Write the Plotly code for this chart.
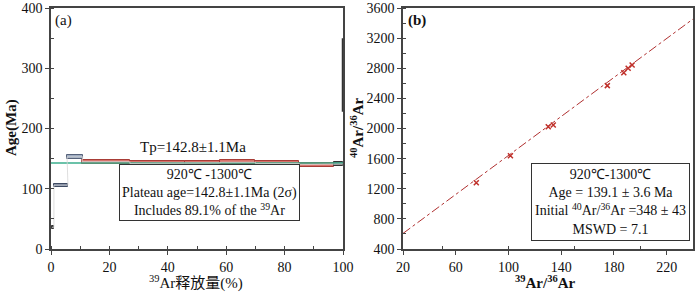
import plotly.graph_objects as go

# ---- Panel (a): age spectrum ----
step_start = [0.3, 1.0, 5.5, 10.6, 27.0, 46.0, 58.0, 70.0, 85.0, 97.0]
step_end = [1.0, 5.8, 10.9, 27.0, 46.0, 58.0, 70.0, 85.0, 97.0, 100.0]
step_age = [36, 106, 153, 145, 142, 143, 144, 142, 140, 141]
step_err = [2.5, 2.5, 3.5, 3.5, 3.5, 3.5, 3.5, 3.5, 3.5, 3.0]
step_in_plateau = [False, False, False, True, True, True, True, True, True, True]
plateau_age = 142.8
last_step_bar = [228, 350]

# ---- Panel (b): isochron ----
iso_x = [75.6, 101.5, 130.2, 134.0, 175.0, 187.5, 190.8, 193.8]
iso_y = [1280, 1639, 2024, 2047, 2569, 2741, 2799, 2843]
iso_intercept = 348
iso_slope = 12.94
iso_xrange = [20, 240]

SERIF = "Liberation Serif, Times New Roman, serif"
AX = "#444444"

fig = go.Figure()

fig.add_trace(go.Scatter(x=[0, 100], y=[plateau_age, plateau_age], mode="lines",
                         line=dict(color="#3aae8c", width=1.5), xaxis="x", yaxis="y",
                         showlegend=False, hoverinfo="skip"))

cx, cy = [], []
for s, e, a in zip(step_start, step_end, step_age):
    cx += [s, e]
    cy += [a, a]
fig.add_trace(go.Scatter(x=cx, y=cy, mode="lines", line=dict(color="#d5d5d5", width=0.8),
                         xaxis="x", yaxis="y", showlegend=False, hoverinfo="skip"))

mids = [(s + e) / 2 for s, e in zip(step_start, step_end)]
widths = [e - s for s, e in zip(step_start, step_end)]
bases = [a - er for a, er in zip(step_age, step_err)]
heights = [2 * er for er in step_err]
fills, lines = [], []
for i, inp in enumerate(step_in_plateau):
    if i == 0:
        fills.append("#333333"); lines.append("#333333")
    elif i == len(step_in_plateau) - 1:
        fills.append("#666666"); lines.append("#333333")
    elif inp:
        fills.append("#d8736c"); lines.append("#a83c36")
    elif i == 1:
        fills.append("#6f7d96"); lines.append("#3e4a62")
    else:
        fills.append("#9eacc2"); lines.append("#56627a")
fig.add_trace(go.Bar(x=mids, y=heights, base=bases, width=widths,
                     marker=dict(color=fills, line=dict(color=lines, width=1)),
                     xaxis="x", yaxis="y", showlegend=False, hoverinfo="skip"))

fig.add_trace(go.Scatter(x=[100, 100], y=last_step_bar, mode="lines",
                         line=dict(color="#333333", width=2.5), xaxis="x", yaxis="y",
                         showlegend=False, hoverinfo="skip", cliponaxis=False))

fig.add_trace(go.Scatter(x=iso_xrange, y=[iso_intercept + iso_slope * v for v in iso_xrange],
                         mode="lines", line=dict(color="#b03030", width=1, dash="dashdot"),
                         xaxis="x2", yaxis="y2", showlegend=False, hoverinfo="skip"))
fig.add_trace(go.Scatter(x=iso_x, y=iso_y, mode="markers",
                         marker=dict(symbol="x-thin", size=5, color="#c0302a",
                                     line=dict(color="#c0302a", width=1.5)),
                         xaxis="x2", yaxis="y2", showlegend=False, hoverinfo="skip"))

axis_common = dict(showline=True, linecolor=AX, linewidth=1.5, mirror=True, ticks="outside",
                   ticklen=4, tickcolor=AX, showgrid=False, zeroline=False, automargin=False,
                   tickfont=dict(family=SERIF, size=14, color="#111"),
                   minor=dict(ticks="inside", ticklen=3, tickcolor=AX, nticks=2))

L, R, T, B = 51, 7, 8, 44
W = 700 - L - R
fig.update_layout(
    width=700, height=293, margin=dict(l=L, r=R, t=T, b=B),
    paper_bgcolor="white", plot_bgcolor="white", barmode="overlay", bargap=0,
    xaxis=dict(domain=[0, (343 - L) / W], range=[0, 100], dtick=20, anchor="y", **axis_common),
    yaxis=dict(domain=[0, 1], range=[0, 400], dtick=100, anchor="x", **axis_common),
    xaxis2=dict(domain=[(403 - L) / W, 1], range=[20, 240], tickvals=[20, 60, 100, 140, 180, 220],
                anchor="y2", **axis_common),
    yaxis2=dict(domain=[0, 1], range=[400, 3600], dtick=400, anchor="x2", **axis_common),
)

def px(xp):
    return (xp - L) / W

def py(yp):
    return (293 - B - yp) / (293 - T - B)

title_font = dict(family=SERIF, size=15, color="#111")
fig.add_annotation(x=px(196), y=py(282), xref="paper", yref="paper", showarrow=False,
                   text="<sup>39</sup>Ar释放量(%)", xanchor="center", yanchor="middle",
                   font=dict(family="Liberation Serif, Noto Sans CJK SC", size=15, color="#111"))
fig.add_annotation(x=px(11), y=py(128), xref="paper", yref="paper", showarrow=False,
                   text="<b>Age(Ma)</b>", textangle=-90, xanchor="center", yanchor="middle",
                   font=title_font)
fig.add_annotation(x=px(545), y=py(282), xref="paper", yref="paper", showarrow=False,
                   text="<b><sup>39</sup>Ar/<sup>36</sup>Ar</b>", xanchor="center", yanchor="middle",
                   font=title_font)
fig.add_annotation(x=px(357), y=py(128), xref="paper", yref="paper", showarrow=False,
                   text="<b><sup>40</sup>Ar/<sup>36</sup>Ar</b>", textangle=-90,
                   xanchor="center", yanchor="middle", font=title_font)

ann_font = dict(family=SERIF, size=14, color="#111")
fig.add_annotation(x=0, y=400, xref="x", yref="y", xanchor="left", yanchor="top",
                   text="(a)", showarrow=False, xshift=2, yshift=-2,
                   font=dict(family=SERIF, size=15, color="#111"))
fig.add_annotation(x=48.5, y=152, xref="x", yref="y", xanchor="center", yanchor="bottom",
                   text="Tp=142.8±1.1Ma", showarrow=False, font=dict(family=SERIF, size=15, color="#111"))
fig.add_annotation(x=px((126 + 292) / 2), y=py(193), xref="paper", yref="paper",
                   xanchor="center", yanchor="middle", showarrow=False,
                   text="920℃ -1300℃<br>Plateau age=142.8±1.1Ma (2σ)<br>Includes 89.1% of the <sup>39</sup>Ar",
                   font=ann_font, bordercolor="#333", borderwidth=1, borderpad=2,
                   bgcolor="white", align="center")
fig.add_annotation(x=20, y=3600, xref="x2", yref="y2", xanchor="left", yanchor="top",
                   text="<b>(b)</b>", showarrow=False, xshift=3, yshift=-2,
                   font=dict(family=SERIF, size=15, color="#111"))
fig.add_annotation(x=px((532 + 689) / 2), y=py(202), xref="paper", yref="paper",
                   xanchor="center", yanchor="middle", showarrow=False,
                   text="920℃-1300℃<br>Age = 139.1 ± 3.6 Ma<br>Initial <sup>40</sup>Ar/<sup>36</sup>Ar =348 ± 43<br>MSWD = 7.1",
                   font=ann_font, bordercolor="#333", borderwidth=1, borderpad=3,
                   bgcolor="white", align="center")

fig.write_html("out.html", config={"displayModeBar": False},
               post_script="document.body.style.margin='0';document.body.style.padding='0';")
